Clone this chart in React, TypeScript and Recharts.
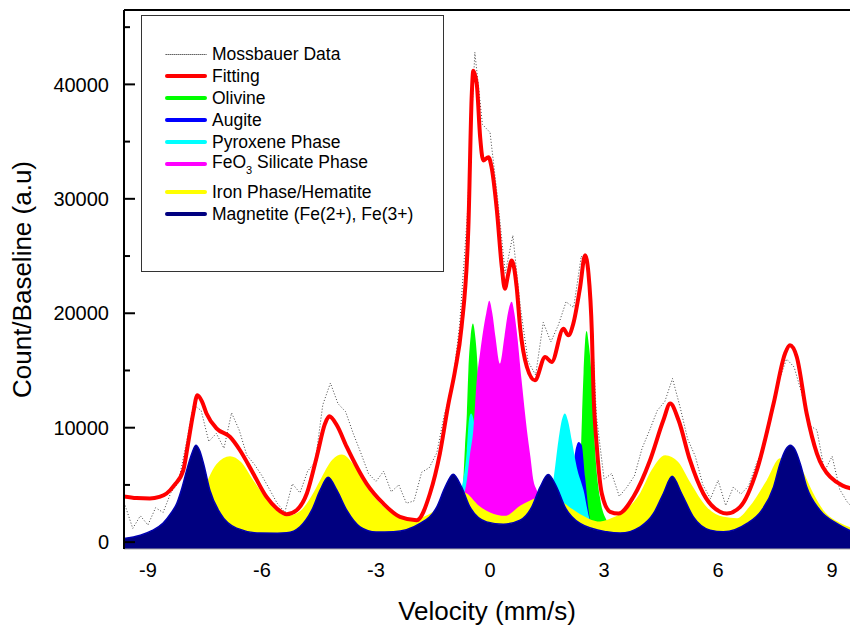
import React from 'react';
import {
  ComposedChart,
  Area,
  Line,
  XAxis,
  YAxis,
  ReferenceLine,
  Legend,
} from 'recharts';

type Pt = [number, number];

// axis ticks
const velocityTicks = [-9, -6, -3, 0, 3, 6, 9];
const countTicks = [0, 5000, 10000, 15000, 20000, 25000, 30000, 35000, 40000, 45000];

// raw Mossbauer spectrum (velocity grid + counts)
const dataVelocity = [
  -9.6, -9.4, -9.2, -9.0, -8.8, -8.6, -8.4, -8.2, -8.0, -7.8,
  -7.6, -7.4, -7.2, -7.0, -6.8, -6.6, -6.4, -6.2, -6.0, -5.8,
  -5.6, -5.4, -5.2, -5.0, -4.8, -4.6, -4.4, -4.2, -4.0, -3.8,
  -3.6, -3.4, -3.2, -3.0, -2.8, -2.6, -2.4, -2.2, -2.0, -1.8,
  -1.6, -1.4, -1.2, -1.0, -0.8, -0.6, -0.4, -0.2, 0.0, 0.2,
  0.4, 0.6, 0.8, 1.0, 1.2, 1.4, 1.6, 1.8, 2.0, 2.2,
  2.4, 2.6, 2.8, 3.0, 3.2, 3.4, 3.6, 3.8, 4.0, 4.2,
  4.4, 4.6, 4.8, 5.0, 5.2, 5.4, 5.6, 5.8, 6.0, 6.2,
  6.4, 6.6, 6.8, 7.0, 7.2, 7.4, 7.6, 7.8, 8.0, 8.2,
  8.4, 8.6, 8.8, 9.0, 9.2, 9.4, 9.6,
];
const dataCounts = [
  3200, 1200, 2300, 1500, 3000, 2600, 4300, 5200, 8500, 12000,
  11500, 8800, 9500, 8200, 11300, 9800, 7600, 6800, 5800, 4600,
  3400, 2600, 5100, 4300, 6200, 7000, 12000, 13900, 12100, 11400,
  9500, 7800, 6000, 5300, 6200, 4400, 5000, 3400, 3600, 6100,
  6500, 7800, 11200, 13400, 19000, 28500, 42800, 36500, 35800, 30000,
  23500, 26800, 20500, 15800, 14600, 19200, 17500, 19000, 21000, 20500,
  25000, 24000, 11000, 5500, 6000, 4000, 4800, 5800, 8200, 9800,
  11500, 12300, 14300, 11800, 9000, 7500, 5000, 3800, 5400, 3200,
  4800, 4200, 4900, 6800, 8400, 11200, 14100, 16000, 15300, 13000,
  10200, 9800, 6200, 7500, 4600, 3500, 2800,
];

// fitted envelope
const fitting: Pt[] = [
  [-9.7, 4030], [-9.3, 3850], [-8.95, 3810], [-8.7, 3950], [-8.51, 4250], [-8.3, 5000],
  [-8.07, 6290], [-7.95, 8500], [-7.81, 11240], [-7.7, 12830], [-7.58, 12300], [-7.46, 11240],
  [-7.19, 9920], [-6.84, 9190], [-6.58, 8030], [-6.23, 6000], [-5.88, 3950], [-5.61, 2940],
  [-5.35, 2440], [-5.09, 2790], [-4.82, 4250], [-4.56, 7450], [-4.34, 10360], [-4.23, 11000],
  [-4.03, 10210], [-3.77, 8320], [-3.25, 5120], [-2.81, 3380], [-2.37, 2210], [-1.93, 1920],
  [-1.58, 4250], [-1.32, 7740], [-1.1, 12000], [-0.92, 15000], [-0.75, 18800], [-0.57, 27520],
  [-0.48, 39170], [-0.44, 41200], [-0.35, 40050], [-0.26, 35380], [-0.18, 33350], [-0.04, 33640],
  [0.04, 32760], [0.18, 28980], [0.31, 24030], [0.39, 22150], [0.48, 23460], [0.57, 24620],
  [0.7, 22290], [0.79, 18800], [0.97, 15300], [1.18, 14140], [1.45, 16180], [1.62, 15740],
  [1.93, 18640], [2.06, 18070], [2.19, 19090], [2.37, 22290], [2.5, 25060], [2.59, 23460],
  [2.68, 18220], [2.72, 13270], [2.81, 8320], [2.94, 4250], [3.16, 2650], [3.38, 2500],
  [3.77, 3950], [4.21, 7160], [4.56, 10650], [4.74, 12110], [4.96, 10650], [5.26, 7160],
  [5.61, 4250], [6.05, 2650], [6.23, 2500], [6.58, 3080], [7.02, 6290], [7.46, 12110],
  [7.76, 16470], [7.89, 17200], [8.07, 16180], [8.33, 11240], [8.6, 7740], [8.95, 5700],
  [9.6, 4600],
];

const olivine: Pt[] = [
  [-1.6, 0], [-1.1, 700], [-0.85, 2000], [-0.72, 4500], [-0.66, 8300], [-0.61, 11240],
  [-0.57, 15000], [-0.51, 18000], [-0.45, 19100], [-0.39, 18000], [-0.35, 16500],
  [-0.28, 12000], [-0.2, 7500], [-0.1, 4000], [0.2, 1500], [0.8, 600], [1.6, 900],
  [2.0, 1800], [2.2, 3000], [2.32, 5000], [2.38, 7000], [2.42, 11000], [2.46, 14800],
  [2.5, 17500], [2.54, 18450], [2.6, 17200], [2.68, 14100], [2.76, 8300], [2.89, 3950],
  [3.07, 1900], [3.4, 800], [4.0, 0],
];

const augite: Pt[] = [
  [1.6, 300], [1.9, 1000], [2.05, 2800], [2.15, 5500], [2.24, 7880], [2.33, 8760],
  [2.41, 8500], [2.5, 5700], [2.63, 2000], [2.8, 800], [3.2, 300],
];

const pyroxene: Pt[] = [
  [-1.6, 300], [-1.2, 1200], [-0.95, 2800], [-0.8, 4200], [-0.72, 5200], [-0.61, 8000],
  [-0.55, 10800], [-0.5, 11240], [-0.44, 10800], [-0.36, 8500], [-0.25, 5500], [-0.1, 2800],
  [0.2, 1200], [0.6, 800], [1.0, 900], [1.35, 2000], [1.55, 3300], [1.67, 5500],
  [1.8, 8900], [1.9, 10800], [1.97, 11240], [2.05, 10600], [2.15, 8900], [2.28, 6570],
  [2.46, 4540], [2.63, 1920], [2.9, 900], [3.5, 200],
];

const silicate: Pt[] = [
  [-2.0, 300], [-1.4, 1000], [-1.0, 2300], [-0.8, 3300], [-0.7, 4000], [-0.61, 5410],
  [-0.53, 7600], [-0.44, 9780], [-0.35, 14140], [-0.26, 16600], [-0.18, 18500], [-0.1, 20000],
  [-0.02, 21100], [0.06, 20000], [0.14, 18000], [0.26, 15600], [0.38, 18000], [0.47, 20000],
  [0.57, 21000], [0.64, 20000], [0.7, 18500], [0.83, 14140], [0.97, 9780], [1.06, 7500],
  [1.14, 5410], [1.23, 4540], [1.4, 3200], [1.7, 1800], [2.2, 800], [3.0, 200],
];

const hematite: Pt[] = [
  [-9.7, 200], [-8.8, 500], [-8.2, 1200], [-7.8, 2400], [-7.54, 4500], [-7.39, 5700],
  [-7.2, 6800], [-6.84, 7510], [-6.55, 7000], [-6.23, 5410], [-5.79, 3380], [-5.35, 2300],
  [-5.0, 2700], [-4.7, 4000], [-4.47, 5410], [-4.15, 7200], [-3.9, 7650], [-3.6, 6800],
  [-3.25, 4830], [-2.8, 3100], [-2.37, 2200], [-2.1, 1900], [-1.84, 2100], [-1.4, 2900],
  [-1.0, 4200], [-0.8, 4450], [-0.61, 4250], [-0.3, 3200], [0.0, 2600], [0.4, 2300],
  [0.8, 3200], [1.23, 3900], [1.5, 4300], [1.84, 3670], [2.3, 2600], [2.9, 1800],
  [3.2, 2100], [3.6, 2900], [3.95, 4300], [4.25, 6300], [4.61, 7600], [4.95, 7000],
  [5.26, 5260], [5.7, 3080], [6.14, 2210], [6.5, 2090], [6.8, 3000], [7.28, 5410],
  [7.63, 7330], [7.9, 7100], [8.16, 6570], [8.5, 4300], [8.77, 2790], [9.2, 1700],
  [9.6, 1150],
];

const magnetite: Pt[] = [
  [-9.7, 300], [-9.2, 600], [-8.9, 1000], [-8.6, 1660], [-8.4, 2500], [-8.24, 3400],
  [-8.1, 4800], [-7.98, 6290], [-7.85, 7700], [-7.74, 8470], [-7.64, 8000], [-7.54, 6900],
  [-7.37, 4540], [-7.1, 2530], [-6.67, 1220], [-6.05, 790], [-5.6, 780], [-5.35, 810],
  [-5.0, 1340], [-4.69, 2790], [-4.47, 4540], [-4.26, 5670], [-4.03, 4540], [-3.77, 2790],
  [-3.42, 1340], [-3.0, 880], [-2.54, 900], [-1.84, 1630], [-1.4, 3080], [-1.18, 4830],
  [-0.97, 5940], [-0.75, 4830], [-0.53, 3080], [-0.09, 1770], [0.35, 1570], [0.79, 1920],
  [1.1, 3080], [1.32, 4830], [1.53, 5900], [1.75, 4830], [1.97, 3080], [2.37, 1630],
  [3.07, 900], [3.42, 790], [3.95, 1340], [4.3, 2500], [4.56, 4250], [4.79, 5760],
  [5.04, 4250], [5.35, 2210], [5.79, 1050], [6.14, 900], [6.76, 1630], [7.15, 2790],
  [7.46, 4830], [7.63, 6870], [7.78, 8100], [7.9, 8470], [8.02, 8100], [8.16, 6870],
  [8.33, 4830], [8.68, 2790], [9.12, 1630], [9.6, 800],
];

const X_MIN = -9.63;
const X_MAX = 9.47;
const Y_MIN = -600;
const Y_MAX = 46500;

const buildTable = () => {
  const rows = new Map<number, any>();
  const add = (key: string, pts: Pt[]) => {
    pts.forEach(([v, c]) => {
      const r = rows.get(v) ?? { v };
      r[key] = c;
      rows.set(v, r);
    });
  };
  add('data', dataVelocity.map((v, i) => [v, dataCounts[i]] as Pt));
  add('fitting', fitting);
  add('olivine', olivine);
  add('augite', augite);
  add('pyroxene', pyroxene);
  add('silicate', silicate);
  add('hematite', hematite);
  add('magnetite', magnetite);
  return [...rows.values()].sort((a, b) => a.v - b.v);
};

const legendItems = [
  { label: 'Mossbauer Data', color: '#555', dotted: true },
  { label: 'Fitting', color: '#ff0000' },
  { label: 'Olivine', color: '#00ff00' },
  { label: 'Augite', color: '#0000ff' },
  { label: 'Pyroxene Phase', color: '#00ffff' },
  { label: 'FeO3 Silicate Phase', color: '#ff00ff' },
  { label: 'Iron Phase/Hematite', color: '#ffff00' },
  { label: 'Magnetite (Fe(2+), Fe(3+)', color: '#000080' },
];

const CountTick = (props: any) => {
  const { x, y, payload } = props;
  const major = payload.value % 10000 === 0;
  return (
    <g>
      <line x1={x + 15} x2={x + 15 + (major ? 11 : 6)} y1={y} y2={y} stroke="#000" strokeWidth={2} />
      {major && (
        <text x={x} y={y} dy="0.36em" textAnchor="end" fontSize={20} fill="#000">
          {payload.value}
        </text>
      )}
    </g>
  );
};

const renderLegend = () => (
  <div
    style={{
      width: 303,
      height: 257,
      boxSizing: 'border-box',
      border: '1.5px solid #333',
      background: '#fff',
      paddingTop: 27,
      paddingLeft: 23,
      fontSize: 17.5,
      color: '#000',
    }}
  >
    {legendItems.map((item, i) => (
      <div
        key={item.label}
        style={{ display: 'flex', alignItems: 'center', height: 22, marginTop: i === 6 ? 6 : 0 }}
      >
        <div
          style={{
            width: 42,
            marginRight: 5,
            borderTop: item.dotted ? `1px dotted ${item.color}` : `4px solid ${item.color}`,
            borderRadius: 2,
          }}
        />
        <span style={{ whiteSpace: 'nowrap' }}>
          {item.label === 'FeO3 Silicate Phase' ? (
            <>
              FeO<sub style={{ fontSize: 11, verticalAlign: -6 }}>3</sub> Silicate Phase
            </>
          ) : (
            item.label
          )}
        </span>
      </div>
    ))}
  </div>
);

export default function App() {
  const table = buildTable();
  return (
    <div
      style={{
        position: 'absolute',
        left: 0,
        top: 0,
        width: 850,
        height: 628,
        background: '#fff',
        fontFamily: "'Liberation Sans', Arial, sans-serif",
      }}
    >
      <ComposedChart
        width={850}
        height={628}
        data={table}
        margin={{ top: 10, right: 0, bottom: 0, left: 0 }}
      >
        <XAxis
          dataKey="v"
          type="number"
          domain={[X_MIN, X_MAX]}
          allowDataOverflow
          ticks={velocityTicks}
          height={79}
          tickSize={0}
          tickMargin={14}
          tick={{ fontSize: 20, fill: '#000' }}
          axisLine={{ stroke: '#aaa', strokeWidth: 1 }}
          label={{ value: 'Velocity (mm/s)', position: 'insideBottom', offset: 8, fontSize: 26, fill: '#000' }}
        />
        <YAxis
          type="number"
          domain={[Y_MIN, Y_MAX]}
          allowDataOverflow
          ticks={countTicks}
          width={124}
          tickSize={0}
          tickMargin={15}
          tickLine={false}
          tick={<CountTick />}
          axisLine={{ stroke: '#000', strokeWidth: 2 }}
          label={{
            value: 'Count/Baseline (a.u)',
            angle: -90,
            position: 'insideLeft',
            offset: 22,
            fontSize: 26,
            fill: '#000',
            style: { textAnchor: 'middle' },
          }}
        />
        <ReferenceLine y={Y_MAX} stroke="#000" strokeWidth={2} />
        <Legend
          layout="vertical"
          align="center"
          verticalAlign="middle"
          content={renderLegend}
          wrapperStyle={{ left: 141, top: 15, width: 303, height: 257 }}
        />
        <Area dataKey="olivine" type="monotone" stroke="none" fill="#00ff00" fillOpacity={1} baseValue={Y_MIN} connectNulls dot={false} activeDot={false} isAnimationActive={false} />
        <Area dataKey="augite" type="monotone" stroke="none" fill="#0000ff" fillOpacity={1} baseValue={Y_MIN} connectNulls dot={false} activeDot={false} isAnimationActive={false} />
        <Area dataKey="pyroxene" type="monotone" stroke="none" fill="#00ffff" fillOpacity={1} baseValue={Y_MIN} connectNulls dot={false} activeDot={false} isAnimationActive={false} />
        <Area dataKey="silicate" type="monotone" stroke="none" fill="#ff00ff" fillOpacity={1} baseValue={Y_MIN} connectNulls dot={false} activeDot={false} isAnimationActive={false} />
        <Area dataKey="hematite" type="monotone" stroke="none" fill="#ffff00" fillOpacity={1} baseValue={Y_MIN} connectNulls dot={false} activeDot={false} isAnimationActive={false} />
        <Area dataKey="magnetite" type="monotone" stroke="#0000b0" strokeWidth={1.5} fill="#000080" fillOpacity={1} baseValue={Y_MIN} connectNulls dot={false} activeDot={false} isAnimationActive={false} />
        <Line dataKey="data" type="linear" stroke="#444" strokeWidth={1} strokeDasharray="1 2" connectNulls dot={false} activeDot={false} isAnimationActive={false} />
        <Line dataKey="fitting" type="monotone" stroke="#ff0000" strokeWidth={4} connectNulls dot={false} activeDot={false} isAnimationActive={false} />
      </ComposedChart>
    </div>
  );
}
